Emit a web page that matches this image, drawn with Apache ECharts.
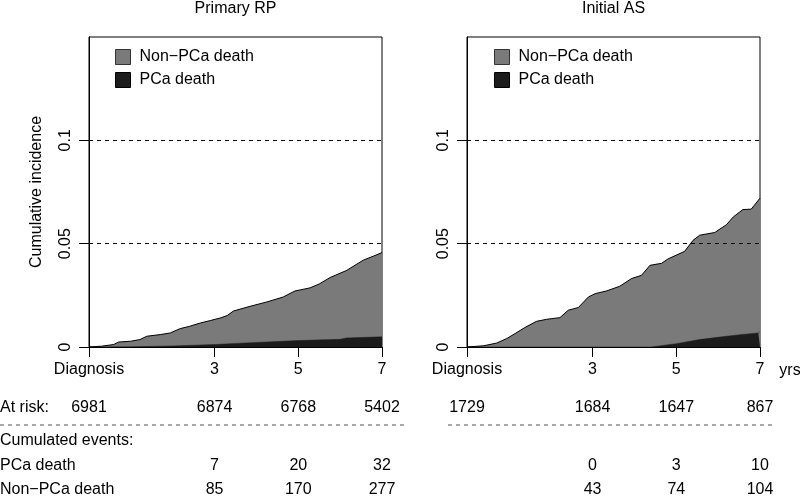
<!DOCTYPE html>
<html><head><meta charset="utf-8">
<script src="https://cdn.jsdelivr.net/npm/echarts@6/dist/echarts.min.js"></script>
<style>html,body{margin:0;padding:0;background:#fff}#c{width:800px;height:496px}</style>
</head><body><div id="c"></div>
<script>
// ---------- data ----------
const panelTitles = ['Primary RP', 'Initial AS'];
const tickYears = [0, 3, 5, 7];
const tickLabels = ['Diagnosis', '3', '5', '7'];
const yTicks = [0, 0.05, 0.1];
const yTickLabels = ['0', '0.05', '0.1'];
const refLines = [0.05, 0.1];
const seriesNames = ['Non\u2212PCa death', 'PCa death'];

// cumulative incidence, top of stack (PCa + non-PCa), Primary RP
const rpTotal = [[0,0],[0.3,0.0004],[0.59,0.0012],[0.71,0.0024],[1.0,0.0028],[1.22,0.0036],[1.38,0.0052],[1.7,0.0060],[1.94,0.0068],[2.18,0.0089],[2.4,0.0100],[2.66,0.0116],[2.9,0.0128],[3.13,0.0140],[3.3,0.0152],[3.45,0.0174],[3.85,0.0197],[4.25,0.0218],[4.64,0.0242],[4.92,0.0271],[5.28,0.0286],[5.5,0.0305],[5.76,0.0336],[6.16,0.0371],[6.55,0.0420],[6.8,0.0440],[7,0.0457]];
const rpPCa = [[0,0],[1,0.0001],[2,0.0005],[3,0.0012],[4,0.0022],[5,0.0031],[6,0.0037],[6.15,0.0044],[7,0.0049]];
// Initial AS
const asTotal = [[0,0],[0.4,0.0006],[0.71,0.0019],[0.95,0.0041],[1.15,0.0065],[1.38,0.0094],[1.66,0.0124],[1.90,0.0134],[2.22,0.0142],[2.42,0.0178],[2.66,0.0191],[2.90,0.0242],[3.06,0.0258],[3.33,0.0271],[3.65,0.0294],[3.93,0.0331],[4.17,0.0347],[4.37,0.0395],[4.65,0.0405],[4.80,0.0426],[5.20,0.0463],[5.40,0.0516],[5.56,0.0541],[5.92,0.0554],[6.20,0.0592],[6.36,0.0629],[6.59,0.0665],[6.79,0.0667],[7,0.0720]];
const asPCa = [[0,0],[4.4,0],[5.0,0.0016],[5.56,0.0036],[6.04,0.0048],[6.59,0.0061],[6.96,0.0068],[7,0.0075]];

// risk table
const rowLabels = ['At risk:', 'Cumulated events:', 'PCa death', 'Non\u2212PCa death'];
const rpAtRisk = [6981, 6874, 6768, 5402];
const asAtRisk = [1729, 1684, 1647, 867];
const tableYears = [3, 5, 7];
const rpPCaEvents = [7, 20, 32];
const rpNonPCaEvents = [85, 170, 277];
const asPCaEvents = [0, 3, 10];
const asNonPCaEvents = [43, 74, 104];

// ---------- style / layout ----------
const FONT = "'Liberation Sans', Arial, Helvetica, sans-serif";
const FS = 16;
const GRAY = '#7a7a7a', DARK = '#1c1c1c';
const grids = [
  {left: 89, right: 418, top: 37, bottom: 149},
  {left: 467, right: 40, top: 37, bottom: 149}
];
const rowY = {atRisk: 408, dash: 425, cum: 441, pca: 466, non: 490};

function xAxisOf(i) {
  return {
    type: 'value', gridIndex: i, min: 0, max: 7,
    axisLine: {show: true, lineStyle: {color: '#000', width: 1}},
    axisTick: {show: true, customValues: tickYears, length: 10, lineStyle: {color: '#000'}},
    axisLabel: {show: true, customValues: tickYears, margin: 15, color: '#000', fontSize: FS, fontFamily: FONT,
      formatter: v => tickLabels[tickYears.indexOf(Math.round(v))]},
    splitLine: {show: false}
  };
}
function yAxisOf(i) {
  const ax = {
    type: 'value', gridIndex: i, min: 0, max: 0.15,
    axisLine: {show: true, lineStyle: {color: '#000', width: 1}},
    axisTick: {show: true, customValues: yTicks, length: 10, lineStyle: {color: '#000'}},
    axisLabel: {show: true, customValues: yTicks, rotate: 90, margin: 15, color: '#000', fontSize: FS, fontFamily: FONT,
      formatter: v => yTickLabels[yTicks.findIndex(t => Math.abs(t - v) < 1e-9)]},
    splitLine: {show: false}
  };
  if (i === 0) {
    ax.name = 'Cumulative incidence';
    ax.nameLocation = 'middle';
    ax.nameGap = 44;
    ax.nameRotate = 90;
    ax.nameTextStyle = {color: '#000', fontSize: FS, fontFamily: FONT};
  }
  return ax;
}
function panelSeries(i, total, pca) {
  return [
    {name: seriesNames[0], type: 'line', xAxisIndex: i, yAxisIndex: i, data: total,
      symbol: 'none', silent: true, z: 2,
      lineStyle: {color: '#000', width: 1}, itemStyle: {color: GRAY},
      areaStyle: {color: GRAY, opacity: 1}},
    {name: seriesNames[1], type: 'line', xAxisIndex: i, yAxisIndex: i, data: pca,
      symbol: 'none', silent: true, z: 3,
      lineStyle: {color: DARK, width: 0.5}, itemStyle: {color: DARK},
      areaStyle: {color: DARK, opacity: 1}},
    {type: 'line', xAxisIndex: i, yAxisIndex: i, data: [], z: 4, silent: true,
      markLine: {silent: true, symbol: ['none', 'none'], label: {show: false},
        lineStyle: {color: '#000', width: 1, type: [4, 4]},
        data: refLines.map(v => ({yAxis: v}))}}
  ];
}
function legendOf(left) {
  return {
    left: left, top: 44, orient: 'vertical', itemWidth: 15, itemHeight: 15, itemGap: 7,
    icon: 'rect', selectedMode: false,
    textStyle: {color: '#000', fontSize: FS, fontFamily: FONT, padding: [0, 0, 0, 4]},
    data: [
      {name: seriesNames[0], itemStyle: {color: GRAY, borderColor: '#333', borderWidth: 1}},
      {name: seriesNames[1], itemStyle: {color: DARK, borderColor: '#000', borderWidth: 1}}
    ]
  };
}

const chart = echarts.init(document.getElementById('c'), null, {renderer: 'canvas'});
chart.setOption({
  animation: false,
  backgroundColor: '#fff',
  grid: grids.map(g => Object.assign({show: true, borderColor: '#000', borderWidth: 1, backgroundColor: 'transparent'}, g)),
  xAxis: [xAxisOf(0), xAxisOf(1)],
  yAxis: [yAxisOf(0), yAxisOf(1)],
  legend: [legendOf(110), legendOf(489)],
  series: [...panelSeries(0, rpTotal, rpPCa), ...panelSeries(1, asTotal, asPCa)]
});

// ---------- titles & risk table placed by the axes' scales ----------
function xPix(i, t) { return chart.convertToPixel({xAxisIndex: i}, t); }
const txt = (x, y, s, align) => ({type: 'text', x: x, y: y, silent: true,
  style: {text: String(s), fill: '#000', font: FS + 'px ' + FONT, textAlign: align || 'center', textVerticalAlign: 'middle'}});
const g = [];
[0, 1].forEach(i => g.push(txt((xPix(i, 0) + xPix(i, 7)) / 2, 9, panelTitles[i])));
g.push(txt(xPix(1, 7) + 30, 371, 'yrs'));
g.push(txt(0, rowY.atRisk, rowLabels[0], 'left'));
g.push(txt(0, rowY.cum, rowLabels[1], 'left'));
g.push(txt(0, rowY.pca, rowLabels[2], 'left'));
g.push(txt(0, rowY.non, rowLabels[3], 'left'));
tickYears.forEach((t, k) => {
  g.push(txt(xPix(0, t), rowY.atRisk, rpAtRisk[k]));
  g.push(txt(xPix(1, t), rowY.atRisk, asAtRisk[k]));
});
tableYears.forEach((t, k) => {
  g.push(txt(xPix(0, t), rowY.pca, rpPCaEvents[k]));
  g.push(txt(xPix(0, t), rowY.non, rpNonPCaEvents[k]));
  g.push(txt(xPix(1, t), rowY.pca, asPCaEvents[k]));
  g.push(txt(xPix(1, t), rowY.non, asNonPCaEvents[k]));
});
const dash = (x1, x2) => ({type: 'line', silent: true, shape: {x1: x1, y1: rowY.dash, x2: x2, y2: rowY.dash},
  style: {stroke: '#555', lineWidth: 1, lineDash: [4, 4]}});
g.push(dash(0, xPix(0, 7) + 23));
g.push(dash(xPix(1, 0) - 19, xPix(1, 7) + 13));
chart.setOption({graphic: g});
</script></body></html>
